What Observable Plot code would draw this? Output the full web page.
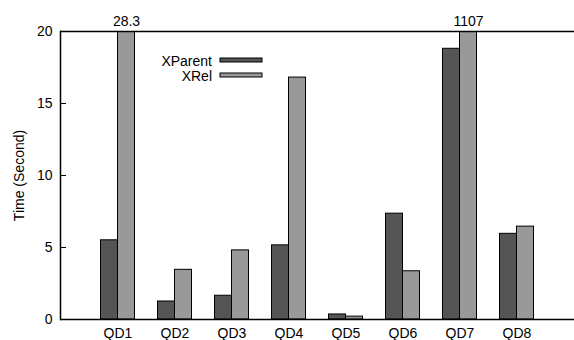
<!DOCTYPE html>
<html><head><meta charset="utf-8">
<script src="https://cdn.jsdelivr.net/npm/d3@7"></script>
<script src="https://cdn.jsdelivr.net/npm/@observablehq/plot@0.6"></script>
<style>body{margin:0;background:#fff} #chart{position:relative;width:574px;height:340px}</style>
</head><body><div id="chart"></div>
<script>
const queries = ["QD1","QD2","QD3","QD4","QD5","QD6","QD7","QD8"];
const xparent = [5.5, 1.25, 1.65, 5.15, 0.35, 7.35, 18.8, 5.95];
const xrel = [28.3, 3.45, 4.8, 16.8, 0.2, 3.35, 1107, 6.45];
const seriesNames = ["XParent", "XRel"];
const seriesColors = ["#555555", "#999999"];
const yTicks = [0, 5, 10, 15, 20];
const yLabel = "Time (Second)";

const yMax = yTicks[yTicks.length - 1];
const rows = queries.flatMap((q, i) => [
  {q, s: seriesNames[0], v: xparent[i]},
  {q, s: seriesNames[1], v: xrel[i]}
]);
const font = "'Liberation Sans', Arial, sans-serif";
const half = 8.5;
const inset = 20;

const chart = Plot.plot({
  width: 574, height: 340,
  marginLeft: 60, marginRight: 0, marginTop: 31, marginBottom: 21,
  style: {fontFamily: font, fontSize: "14px", color: "#000", background: "#fff"},
  x: {type: "band", domain: queries, padding: 0, paddingOuter: 0.5, label: null},
  y: {domain: [0, yMax], ticks: yTicks, label: yLabel},
  marks: [
    ...seriesNames.map((s, k) => Plot.barY(rows.filter(d => d.s === s), {
      x: "q", y: "v", fill: seriesColors[k], stroke: "#000", strokeWidth: 1,
      insetLeft: inset, insetRight: inset, dx: k === 0 ? -half : half, clip: true
    })),
    Plot.text(rows.filter(d => d.v > yMax), {
      x: "q", text: d => String(d.v), frameAnchor: "top", dy: -15, dx: half,
      fontSize: 14, fill: "#000"
    }),
    Plot.axisX({tickSize: 0, tickPadding: 9, label: null, fill: "#000"}),
    Plot.axisY({ticks: yTicks, tickSize: -6, tickPadding: 14, label: yLabel,
      labelAnchor: "center", labelArrow: "none", labelOffset: 46, fill: "#000", stroke: "#000"}),
    Plot.ruleY([0, yMax], {stroke: "#000", strokeWidth: 1.5}),
    Plot.frame({anchor: "left", stroke: "#000", strokeWidth: 1.5})
  ]
});
document.getElementById("chart").appendChild(chart);

// legend inside plot area
const svg = d3.select(chart);
const lg = svg.append("g").attr("font-family", font).attr("font-size", 14);
seriesNames.forEach((s, k) => {
  const cy = 60.5 + k * 15;
  lg.append("text").attr("x", 212).attr("y", cy).attr("text-anchor", "end")
    .attr("dominant-baseline", "central").attr("fill", "#000").text(s);
  lg.append("rect").attr("x", 220).attr("y", cy - 2.5).attr("width", 42).attr("height", 4)
    .attr("fill", seriesColors[k]).attr("stroke", "#000").attr("stroke-width", 1);
});
</script>
</body></html>
